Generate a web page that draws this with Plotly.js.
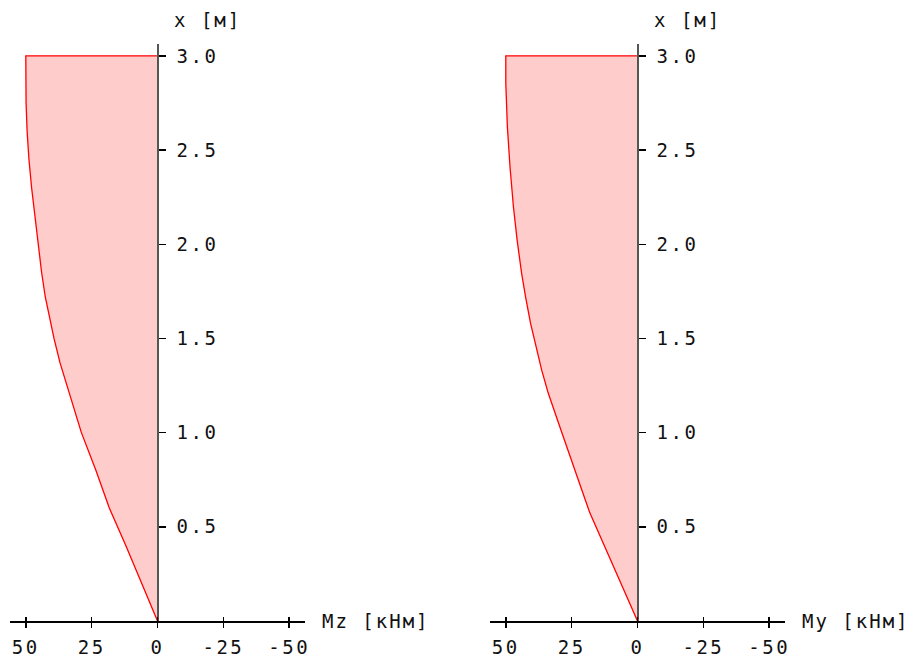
<!DOCTYPE html>
<html>
<head>
<meta charset="utf-8">
<script src="https://cdn.plot.ly/plotly-3.0.1.min.js"></script>
<style>
html, body { margin: 0; padding: 0; background: #fff; }
#chart { width: 910px; height: 658px; }
#chart text { letter-spacing: 2.5px; }
#chart .annotation text { letter-spacing: 2px; }
</style>
</head>
<body>
<div id="chart"></div>
<script>
// Mz diagram: position along member [m] and moment [kNm]
const mzPos = [0, 0.2, 0.4, 0.6, 0.8, 1.0, 1.15, 1.25, 1.37, 1.5, 1.6, 1.72, 1.85, 2.0, 2.15, 2.3, 2.45, 2.6, 2.75, 2.9, 3.0];
const mzVal = [0, 5.9, 12.0, 18.3, 23.4, 28.9, 32.3, 34.5, 37.0, 39.3, 40.9, 42.6, 44.0, 45.3, 46.6, 47.8, 48.8, 49.5, 49.9, 50.0, 50.0];
// My diagram
const myPos = [0, 0.256, 0.45, 0.574, 0.75, 0.909, 1.015, 1.104, 1.21, 1.333, 1.492, 1.58, 1.721, 1.845, 2.022, 2.198, 2.41, 2.622, 2.852, 3.0];
const myVal = [0, 8.0, 14.3, 18.1, 22.5, 26.3, 29.1, 31.3, 33.9, 36.4, 39.2, 40.6, 42.5, 44.0, 45.7, 47.1, 48.4, 49.4, 50.0, 50.0];

const xTickVals = [50, 25, 0, -25, -50];
const xTickText = ['50', '25', '0', '-25', '-50'];
const yTickVals = [0.5, 1.0, 1.5, 2.0, 2.5, 3.0];
const yTickText = ['0.5', '1.0', '1.5', '2.0', '2.5', '3.0'];
const posTitle = 'x [м]';
const mzTitle = 'Mz [кНм]';
const myTitle = 'My [кНм]';

const FONT = {family: 'DejaVu Sans Mono', size: 19, color: '#111'};
const W = 910, H = 658;
const px = v => v / W;
const py = v => (H - v) / H;

function closed(pos, val) {
  // polygon: along the curve then back to the axis at the top
  return {x: val.concat([0]), y: pos.concat([pos[pos.length - 1]])};
}
const mzPoly = closed(mzPos, mzVal);
const myPoly = closed(myPos, myVal);

const fillStyle = {
  type: 'scatter', mode: 'lines', fill: 'toself',
  fillcolor: 'rgba(255,0,0,0.2)', line: {color: '#ff0000', width: 1.3},
  hoverinfo: 'skip', showlegend: false
};

const traces = [
  Object.assign({}, fillStyle, {x: mzPoly.x, y: mzPoly.y, xaxis: 'x', yaxis: 'y'}),
  Object.assign({}, fillStyle, {x: myPoly.x, y: myPoly.y, xaxis: 'x2', yaxis: 'y2'}),
  {type: 'scatter', mode: 'none', x: [0], y: [0], xaxis: 'x3', yaxis: 'y', showlegend: false, hoverinfo: 'skip'},
  {type: 'scatter', mode: 'none', x: [0], y: [0], xaxis: 'x4', yaxis: 'y2', showlegend: false, hoverinfo: 'skip'}
];

const xRange = [56, -56];
const yRange = [0, 3.063];
const yDom = [py(621), py(44)];
const dom1 = [px(10), px(305)];
const dom2 = [px(490), px(785)];

function xAxis(dom, anchor) {
  return {
    domain: dom, anchor: anchor, range: xRange, autorange: false,
    showgrid: false, zeroline: false, showline: true, linecolor: '#000', linewidth: 1.5,
    ticks: 'outside', ticklen: 5, tickwidth: 1.5, tickcolor: '#000',
    tickvals: xTickVals, ticktext: xTickText, tickfont: FONT, ticklabelstandoff: 4,
    fixedrange: true
  };
}
function xOverlay(over, dom, anchor) {
  return {
    overlaying: over, domain: dom, anchor: anchor, range: xRange, autorange: false,
    showgrid: false, zeroline: false, showline: false,
    ticks: 'inside', ticklen: 4, tickwidth: 1.5, tickcolor: '#000',
    tickvals: xTickVals, showticklabels: false, fixedrange: true
  };
}
function yAxis(pos) {
  return {
    domain: yDom, anchor: 'free', position: pos, side: 'right', range: yRange, autorange: false,
    showgrid: false, zeroline: false, showline: true, linecolor: '#555', linewidth: 2,
    ticks: 'outside', ticklen: 7, tickwidth: 1.5, tickcolor: '#000',
    tickvals: yTickVals, ticktext: yTickText, tickfont: FONT, ticklabelstandoff: 7,
    fixedrange: true
  };
}

const ann = (text, x, y) => ({
  text: text, x: px(x), y: py(y), xref: 'paper', yref: 'paper',
  xanchor: 'left', yanchor: 'middle', showarrow: false, font: FONT, borderpad: 0
});

const layout = {
  width: W, height: H,
  margin: {l: 0, r: 0, t: 0, b: 0},
  paper_bgcolor: '#fff', plot_bgcolor: 'rgba(0,0,0,0)',
  showlegend: false,
  xaxis: xAxis(dom1, 'y'),
  xaxis2: xAxis(dom2, 'y2'),
  xaxis3: xOverlay('x', dom1, 'y'),
  xaxis4: xOverlay('x2', dom2, 'y2'),
  yaxis: yAxis(px(157.7)),
  yaxis2: yAxis(px(637.7)),
  annotations: [
    ann(posTitle, 178, 20),
    ann(posTitle, 658, 20),
    ann(mzTitle, 329, 621),
    ann(myTitle, 809, 621)
  ]
};

Plotly.newPlot('chart', traces, layout, {staticPlot: true, displayModeBar: false});
</script>
</body>
</html>
